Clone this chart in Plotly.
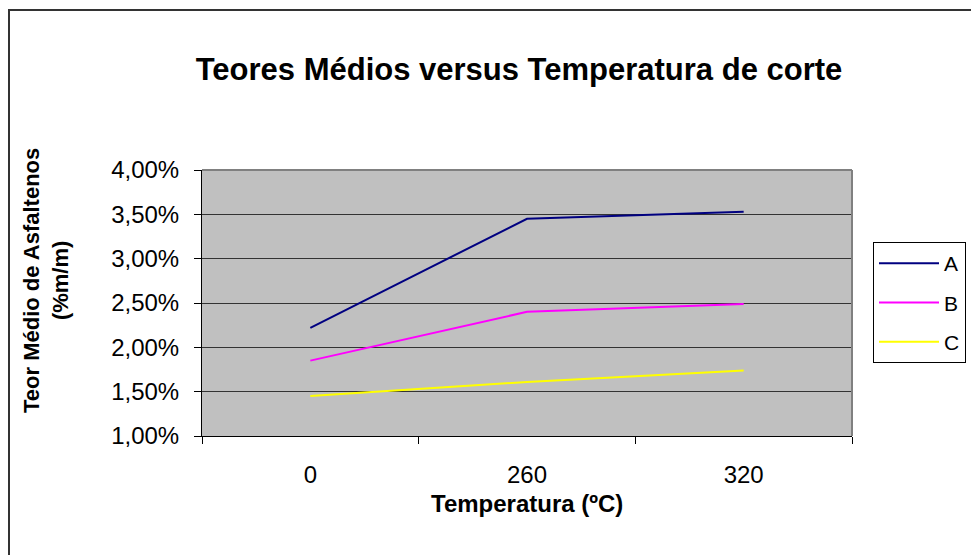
import plotly.graph_objects as go

categories = ["0", "260", "320"]
serie_a = [0.0222, 0.0345, 0.0353]
serie_b = [0.0185, 0.0240, 0.0249]
serie_c = [0.0145, 0.0161, 0.0174]
series_names = ["A", "B", "C"]
series_colors = ["#000080", "#FF00FF", "#FFFF00"]

OFF = 8  # page body margin
W, H = 979 - OFF, 555 - OFF
L, R, T, B = 202 - OFF, 852 - OFF, 170 - OFF, 436 - OFF

def px(x):
    return (x - OFF - L) / (R - L)

def py(y):
    return (B - (y - OFF)) / (B - T)

fig = go.Figure()
for name, vals, col, grp in zip(series_names, [serie_a, serie_b, serie_c], series_colors, ["a", "b", "c"]):
    fig.add_trace(go.Scatter(x=categories, y=vals, mode="lines", name=name,
                             legendgroup=grp,
                             line=dict(color=col, width=2)))

FONT = "Liberation Sans, Arial, sans-serif"

fig.update_layout(
    width=W, height=H,
    margin=dict(l=L, r=W - R, t=T, b=H - B, pad=0),
    paper_bgcolor="white",
    plot_bgcolor="#C0C0C0",
    separators=",.",
    font=dict(family=FONT, color="black", size=24),
    title=dict(text="<b>Teores Médios versus Temperatura de corte</b>",
               font=dict(family=FONT, size=31, color="black"),
               x=px(519), xanchor="center", xref="paper",
               y=1 - (69 - OFF) / H, yanchor="middle"),
    xaxis=dict(type="category", range=[-0.5, 2.5], tickson="boundaries",
               ticks="outside", ticklen=7, tickcolor="black", tickwidth=1,
               showline=True, linecolor="black", linewidth=1,
               showgrid=False, zeroline=False, ticklabelstandoff=17,
               tickfont=dict(size=24)),
    yaxis=dict(range=[0.01, 0.04], dtick=0.005, tick0=0.01, tickformat=".2%",
               ticks="outside", ticklen=7, tickcolor="black", tickwidth=1,
               showline=True, linecolor="black", linewidth=1,
               showgrid=True, gridcolor="#333333", gridwidth=1,
               zeroline=False, ticklabelstandoff=10,
               tickfont=dict(size=24)),
    legend=dict(x=px(873), y=py(242), xanchor="left", yanchor="top",
                bordercolor="black", borderwidth=1, bgcolor="white",
                font=dict(size=21), tracegroupgap=9,
                itemwidth=60),
    showlegend=True,
)

# plot area border (top & right, gray)
fig.add_shape(type="line", xref="paper", yref="paper", x0=0, x1=1, y0=1, y1=1,
              line=dict(color="#808080", width=2))
fig.add_shape(type="line", xref="paper", yref="paper", x0=1, x1=1, y0=0, y1=1,
              line=dict(color="#808080", width=2))
# outer chart frame
fig.add_shape(type="rect", xref="paper", yref="paper",
              x0=px(9), x1=px(990), y0=py(570), y1=py(10),
              line=dict(color="#333333", width=2))

fig.add_annotation(text="<b>Temperatura (ºC)</b>", xref="paper", yref="paper",
                   x=px(527), y=py(503), showarrow=False,
                   font=dict(family=FONT, size=24, color="black"),
                   xanchor="center", yanchor="middle")
fig.add_annotation(text="<b>Teor Médio de Asfaltenos<br>(%m/m)</b>", xref="paper", yref="paper",
                   x=px(46), y=py(281), showarrow=False, textangle=-90,
                   font=dict(family=FONT, size=22, color="black"),
                   xanchor="center", yanchor="middle")

fig.write_html("out.html")
